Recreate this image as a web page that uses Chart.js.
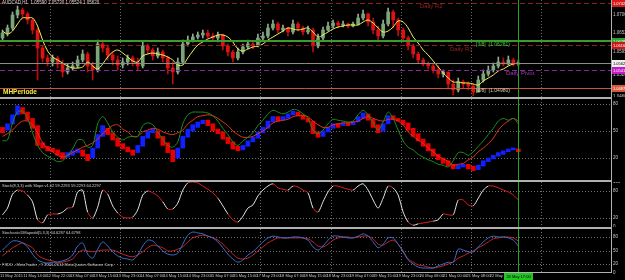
<!DOCTYPE html>
<html lang="en">
<head>
<meta charset="UTF-8">
<title>AUDCAD,H1</title>
<script src="https://cdn.jsdelivr.net/npm/chart.js"></script>
<style>
  html, body { margin: 0; padding: 0; background: #000; }
  body { position: relative; width: 625px; height: 280px; overflow: hidden; font-family: 'Liberation Sans', Arial, sans-serif; }
  canvas { position: absolute; left: 0; }
  .sep { position: absolute; left: 0; width: 612px; height: 2px; background: #b0b0b0; }
  .txt { position: absolute; white-space: nowrap; line-height: 1; }
</style>
</head>
<body>
<canvas id="cMain" width="625" height="97" style="top:0"></canvas>
<div class="sep" style="top:97px"></div>
<canvas id="cMh" width="625" height="81" style="top:99px"></canvas>
<div class="sep" style="top:180px"></div>
<canvas id="cSlope" width="625" height="45" style="top:182px"></canvas>
<div class="sep" style="top:227px"></div>
<canvas id="cDm" width="625" height="51" style="top:229px"></canvas>

<div class="txt" style="left:2px;top:1px;font-size:4.5px;color:#d8d8d8">AUDCAD,H1&nbsp; 1.05590 1.05730 1.05524 1.05620</div>
<div class="txt" style="left:420px;top:3px;font-size:6px;color:#9a2222">Daily R2</div>
<div class="txt" style="left:476px;top:42px;font-size:5px;color:#3ccc3c">[3/8]&nbsp; (1.06281)</div>
<div class="txt" style="left:450px;top:46px;font-size:6px;color:#9a2222">Daily R1</div>
<div class="txt" style="left:506px;top:70px;font-size:6px;color:#a03cb4">Daily Pivot</div>
<div class="txt" style="left:476px;top:88px;font-size:5px;color:#d4d0b0">[2/8]&nbsp; (1.04980)</div>
<div class="txt" style="left:3px;top:89px;font-size:6.5px;font-weight:bold;color:#f4f040">MHPeriode</div>
<div class="txt" style="left:2px;top:184px;font-size:4px;color:#d0d0d0">Stoch(8,3,3) with Slope v1.02 59.2293 59.2293 64.2297</div>
<div class="txt" style="left:2px;top:231px;font-size:4px;color:#d0d0d0">StochasticDMapedd(5,3,3) 64.6287 64.6798</div>
<div class="txt" style="left:2px;top:263px;font-size:4px;color:#c8c8c8">FXDD - MetaTrader , © 2001-2014 MetaQuotes Software Corp.</div>

<script>
// ---- price candles (main panel)
const opens = [1.0637,1.0652,1.0667,1.0706,1.0721,1.0709,1.0691,1.0661,1.0607,1.0577,
  1.0565,1.0577,1.0559,1.0535,1.0547,1.0553,1.0571,1.0589,1.0553,1.0541,
  1.0619,1.0607,1.0586,1.0571,1.0556,1.0565,1.0577,1.0565,1.0553,1.0613,
  1.0601,1.0583,1.0595,1.0577,1.0547,1.0535,1.0565,1.0619,1.0631,1.0640,
  1.0646,1.0652,1.0643,1.0637,1.0646,1.0613,1.0595,1.0577,1.0595,1.0610,
  1.0619,1.0613,1.0637,1.0643,1.0667,1.0679,1.0661,1.0667,1.0655,1.0679,
  1.0667,1.0655,1.0661,1.0613,1.0637,1.0661,1.0673,1.0682,1.0676,1.0679,
  1.0673,1.0679,1.0697,1.0709,1.0685,1.0661,1.0643,1.0679,1.0715,1.0691,
  1.0661,1.0637,1.0613,1.0589,1.0571,1.0559,1.0553,1.0541,1.0529,1.0535,
  1.0499,1.0481,1.0505,1.0499,1.0493,1.0475,1.0511,1.0529,1.0541,1.0553,
  1.0565,1.0559,1.0571,1.0559];
const closes = [1.0652,1.0667,1.0706,1.0721,1.0709,1.0691,1.0661,1.0607,1.0577,1.0565,
  1.0577,1.0559,1.0535,1.0547,1.0553,1.0571,1.0589,1.0553,1.0541,1.0619,
  1.0607,1.0586,1.0571,1.0556,1.0565,1.0577,1.0565,1.0553,1.0613,1.0601,
  1.0583,1.0595,1.0577,1.0547,1.0535,1.0565,1.0619,1.0631,1.0640,1.0646,
  1.0652,1.0643,1.0637,1.0646,1.0613,1.0595,1.0577,1.0595,1.0610,1.0619,
  1.0613,1.0637,1.0643,1.0667,1.0679,1.0661,1.0667,1.0655,1.0679,1.0667,
  1.0655,1.0661,1.0613,1.0637,1.0661,1.0673,1.0682,1.0676,1.0679,1.0673,
  1.0679,1.0697,1.0709,1.0685,1.0661,1.0643,1.0679,1.0715,1.0691,1.0661,
  1.0637,1.0613,1.0589,1.0571,1.0559,1.0553,1.0541,1.0529,1.0535,1.0499,
  1.0481,1.0505,1.0499,1.0493,1.0475,1.0511,1.0529,1.0541,1.0553,1.0565,
  1.0559,1.0571,1.0559,1.0562];
const highs = [1.0661,1.0676,1.0715,1.0733,1.0727,1.0715,1.0697,1.0667,1.0613,1.0586,
  1.0586,1.0583,1.0571,1.0559,1.0565,1.0583,1.0601,1.0595,1.0565,1.0631,
  1.0631,1.0616,1.0595,1.0583,1.0577,1.0586,1.0583,1.0577,1.0625,1.0619,
  1.0607,1.0607,1.0601,1.0583,1.0565,1.0577,1.0631,1.0643,1.0649,1.0655,
  1.0661,1.0661,1.0652,1.0655,1.0649,1.0619,1.0601,1.0607,1.0619,1.0631,
  1.0628,1.0649,1.0655,1.0679,1.0691,1.0685,1.0676,1.0670,1.0691,1.0685,
  1.0673,1.0673,1.0667,1.0649,1.0670,1.0685,1.0691,1.0688,1.0688,1.0682,
  1.0685,1.0709,1.0721,1.0712,1.0697,1.0673,1.0691,1.0727,1.0721,1.0697,
  1.0667,1.0643,1.0619,1.0595,1.0577,1.0565,1.0562,1.0553,1.0541,1.0535,
  1.0511,1.0517,1.0511,1.0505,1.0499,1.0523,1.0541,1.0553,1.0562,1.0580,
  1.0577,1.0583,1.0577,1.0571];
const lows = [1.0631,1.0643,1.0661,1.0697,1.0697,1.0679,1.0649,1.0511,1.0565,1.0553,
  1.0553,1.0547,1.0520,1.0529,1.0541,1.0547,1.0565,1.0535,1.0511,1.0535,
  1.0595,1.0571,1.0556,1.0541,1.0547,1.0556,1.0553,1.0541,1.0547,1.0589,
  1.0571,1.0577,1.0565,1.0529,1.0499,1.0529,1.0559,1.0613,1.0625,1.0634,
  1.0637,1.0637,1.0631,1.0625,1.0601,1.0583,1.0565,1.0571,1.0589,1.0604,
  1.0604,1.0610,1.0631,1.0637,1.0661,1.0652,1.0655,1.0643,1.0649,1.0658,
  1.0646,1.0649,1.0595,1.0607,1.0631,1.0658,1.0667,1.0667,1.0670,1.0667,
  1.0670,1.0676,1.0691,1.0673,1.0649,1.0625,1.0637,1.0673,1.0667,1.0643,
  1.0625,1.0601,1.0577,1.0562,1.0553,1.0544,1.0532,1.0517,1.0520,1.0487,
  1.0466,1.0475,1.0487,1.0481,1.0463,1.0475,1.0505,1.0523,1.0535,1.0547,
  1.0553,1.0556,1.0553,1.0553];
const maLine = [1.0658,1.0649,1.0658,1.0679,1.0697,1.0697,1.0697,1.0673,1.0631,1.0598,
  1.0580,1.0571,1.0562,1.0553,1.0547,1.0547,1.0550,1.0565,1.0553,1.0544,
  1.0559,1.0580,1.0595,1.0601,1.0592,1.0580,1.0568,1.0565,1.0583,1.0589,
  1.0592,1.0589,1.0586,1.0580,1.0571,1.0556,1.0556,1.0577,1.0598,1.0616,
  1.0625,1.0634,1.0640,1.0646,1.0646,1.0640,1.0625,1.0604,1.0598,1.0604,
  1.0610,1.0613,1.0619,1.0631,1.0640,1.0649,1.0658,1.0667,1.0664,1.0661,
  1.0664,1.0667,1.0655,1.0640,1.0646,1.0655,1.0664,1.0670,1.0673,1.0676,
  1.0676,1.0676,1.0685,1.0691,1.0682,1.0667,1.0655,1.0658,1.0670,1.0688,
  1.0685,1.0667,1.0640,1.0622,1.0601,1.0586,1.0568,1.0550,1.0532,1.0517,
  1.0505,1.0505,1.0502,1.0502,1.0499,1.0496,1.0508,1.0517,1.0526,1.0538,
  1.0544,1.0553,1.0559,1.0562];
// R2, [3/8], R1, bid, pivot, [2/8]
const levelPrices = [1.0742, 1.0628, 1.0616, 1.0562, 1.0541, 1.0487];
const priceTicks = [1.0706, 1.0652, 1.0595, 1.0526, 1.0460];

// ---- MHPeriode panel
const mhOpen = [54,51,58,68,76,71,64,56,37,33, 31,29,26,21,23,26,29,24,20,31,
  44,53,48,42,36,32,29,26,33,42, 48,50,44,37,29,20,31,43,50,54,
  58,62,58,52,49,43,38,33,29,33, 38,42,48,53,60,66,62,64,68,71,
  68,64,61,49,44,49,53,58,56,59, 57,60,64,69,63,57,50,58,67,64,
  62,59,53,47,41,36,30,24,20,17, 13,8,10,13,11,7,11,16,19,22, 24,27,29,30];
const mhClose = [48,58,68,78,69,62,53,34,31,28, 27,23,19,26,28,30,22,17,31,46,
  56,46,40,33,30,27,23,34,44,50, 52,42,34,26,16,31,44,52,57,60,
  62,56,50,47,41,36,30,28,34,39, 43,49,54,61,66,61,66,69,72,67,
  63,60,47,43,50,54,58,54,59,56, 60,66,70,62,54,48,58,67,63,61,
  57,51,44,39,33,28,22,18,14,11, 8,12,13,8,6,12,17,20,23,26, 28,30,31,27];
const mhFast = [39,40,59,71,72,64,48,34,26,22, 19,16,17,23,30,40,40,32,34,58,
  66,59,49,43,40,43,44,44,56,59, 57,49,41,34,32,38,58,68,71,71,
  71,70,67,61,53,46,38,34,39,43, 48,56,62,69,73,71,69,71,74,73,
  69,64,51,47,51,58,63,62,61,60, 61,68,73,68,59,51,60,71,64,51,
  39,32,29,24,21,18,16,13,12,10, 17,26,26,23,27,33,39,46,53,61, 64,62,64,58];
const mhSlow = [44,47,51,57,61,61,57,48,37,31, 27,23,21,23,26,29,32,34,37,41,
  47,52,56,57,52,49,44,44,49,51, 53,52,49,47,46,48,51,58,62,66,
  67,68,67,64,60,56,50,46,43,43, 44,47,50,54,59,61,62,63,66,67,
  67,66,61,57,54,54,57,58,59,59, 60,61,64,66,64,62,61,63,63,61,
  57,49,44,40,36,31,27,22,19,16, 12,13,14,18,21,27,31,36,42,51, 57,61,64,61];

// ---- Stoch with slope
const stochSlope = [27,42,73,82,80,71,56,16,9,27, 29,29,33,42,44,78,82,33,20,44,
  82,73,47,31,22,20,22,38,71,80, 76,69,56,40,40,53,82,98,100,98,
  91,84,76,64,47,29,16,11,24,42, 49,69,82,91,96,87,84,82,91,89,
  82,76,42,33,56,78,91,91,87,84, 82,91,96,82,60,42,64,91,87,71,
  33,11,4,7,9,11,13,16,29,27, 27,60,60,49,47,64,82,91,91,87, 82,78,71,60];

// ---- StochasticDMapedd
const dmMain = [51,62,71,71,67,58,42,29,24,22, 24,24,27,31,40,60,67,42,33,53,
  69,60,47,38,33,31,29,40,60,73, 71,60,49,42,40,44,64,84,91,89,
  87,82,78,69,56,42,31,24,29,40, 47,58,69,78,82,80,78,78,80,80,
  78,73,58,51,60,73,82,82,80,78, 78,82,87,82,69,56,64,78,78,64,
  47,29,20,13,11,11,11,16,20,24, 24,53,51,47,47,58,69,78,82,80, 80,78,73,60];
const dmSignal = [38,47,56,62,67,62,56,40,33,29, 27,24,24,27,31,44,51,49,47,49,
  51,51,51,47,42,38,36,40,47,56, 62,60,56,49,49,53,58,69,78,82,
  84,82,78,73,64,53,42,33,31,33, 40,49,58,67,73,78,78,78,78,78,
  78,76,69,60,58,64,73,78,80,80, 78,80,82,82,76,64,62,69,73,64,
  49,31,24,18,16,13,11,13,16,20, 24,33,38,44,49,56,62,69,76,78, 80,80,78,71];

const dateTicks = ['11 May 2015','11 May 14:00','12 May 22:00','13 May 07:00','13 May 15:00',
  '13 May 23:00','14 May 07:00','14 May 15:00','14 May 23:00','15 May 07:00','15 May 15:00',
  '17 May 23:00','18 May 07:00','18 May 15:00','18 May 23:00','19 May 07:00','19 May 15:00',
  '19 May 23:00','20 May 08:00','21 May 00:00','21 May 08:00','22 May 16:00'];
const cursorLabel = '24 May 17:00';

const nSlots = 122;               // bars that fit in the window, incl. empty space on the right
const gridIdx = [10, 24, 52, 66, 80, 94, 108];
const cursorIdx = closes.length - 1;
const slots = Array.from({ length: nSlots }, (_, i) => i);

Chart.defaults.font.family = "'Liberation Sans', Arial, sans-serif";
Chart.defaults.font.size = 4.5;
Chart.defaults.animation = false;
Chart.defaults.events = [];
Chart.defaults.plugins.legend.display = false;
Chart.defaults.plugins.tooltip.enabled = false;

const xHidden = { type: 'category', offset: true, display: false };

function rightAxis(min, max, ticks, fmt) {
  return {
    position: 'right', min, max,
    afterFit: s => { s.width = 14; s.paddingTop = 0; s.paddingBottom = 0; },
    afterBuildTicks: s => { s.ticks = ticks.map(v => ({ value: v })); },
    border: { color: '#b0b0b0', width: 1 },
    grid: { display: false, drawTicks: false },
    ticks: { color: '#c4c4c4', padding: 2, callback: fmt || (v => String(v)) }
  };
}

// dotted day lines, horizontal level lines, green cursor
function frame(yLines) {
  return {
    id: 'frame',
    beforeDatasetsDraw(chart) {
      const { ctx, chartArea: a, scales: { x, y } } = chart;
      const half = (x.getPixelForValue(1) - x.getPixelForValue(0)) / 2;
      ctx.save();
      ctx.strokeStyle = '#6e6e6e';
      ctx.lineWidth = 1;
      ctx.setLineDash([1, 2]);
      ctx.beginPath();
      gridIdx.forEach(i => {
        const px = Math.round(x.getPixelForValue(i) - half) + 0.5;
        ctx.moveTo(px, a.top); ctx.lineTo(px, a.bottom);
      });
      yLines.forEach(v => {
        const py = Math.round(y.getPixelForValue(v)) + 0.5;
        ctx.moveTo(a.left, py); ctx.lineTo(a.right, py);
      });
      ctx.stroke();
      ctx.restore();
    },
    afterDatasetsDraw(chart) {
      const { ctx, chartArea: a, scales: { x } } = chart;
      const px = Math.round(x.getPixelForValue(cursorIdx)) + 0.5;
      ctx.save();
      ctx.strokeStyle = '#1fa51f';
      ctx.lineWidth = 1;
      ctx.beginPath(); ctx.moveTo(px, a.top); ctx.lineTo(px, a.bottom); ctx.stroke();
      ctx.restore();
    }
  };
}

// main-panel levels: R2, [3/8], R1, bid, pivot, [2/8]
const levelStyle = [
  { color: '#8a1e1e', dash: [5, 3], width: 1, box: '#d81a1a', ink: '#ffffff' },
  { color: '#3a9c2c', dash: [], width: 2, box: '#2ea02e', ink: '#ffffff' },
  { color: '#8a1e1e', dash: [5, 3], width: 1, box: '#c81818', ink: '#ffffff' },
  { color: '#8c8c8c', dash: [], width: 1, box: '#f0f0f0', ink: '#000000' },
  { color: '#8a2a9a', dash: [5, 3], width: 1, box: '#c41cc4', ink: '#ffffff' },
  { color: '#c8553a', dash: [], width: 1, box: '#d8583a', ink: '#ffffff' }
];
const levels = {
  id: 'levels',
  afterDatasetsDraw(chart) {
    const { ctx, chartArea: a, scales: { y } } = chart;
    ctx.save();
    levelPrices.forEach((p, i) => {
      const st = levelStyle[i];
      const py = Math.round(y.getPixelForValue(p)) + (st.width % 2 ? 0.5 : 0);
      ctx.strokeStyle = st.color;
      ctx.lineWidth = st.width;
      ctx.setLineDash(st.dash);
      ctx.beginPath(); ctx.moveTo(a.left, py); ctx.lineTo(a.right, py); ctx.stroke();
    });
    ctx.restore();
  },
  afterDraw(chart) {
    const { ctx, chartArea: a, scales: { y } } = chart;
    ctx.save();
    ctx.font = "4px 'Liberation Sans', Arial, sans-serif";
    ctx.textBaseline = 'middle';
    levelPrices.forEach((p, i) => {
      const st = levelStyle[i];
      const py = Math.round(y.getPixelForValue(p));
      ctx.fillStyle = st.box;
      ctx.fillRect(a.right + 1, py - 3, 14, 7);
      ctx.fillStyle = st.ink;
      ctx.fillText(p.toFixed(5), a.right + 2, py + 0.5);
    });
    ctx.restore();
  }
};

// ---- main price chart
new Chart(document.getElementById('cMain'), {
  type: 'bar',
  data: {
    labels: slots,
    datasets: [
      { type: 'line', data: maLine, borderColor: '#f2f05a', borderWidth: 1, pointRadius: 0, tension: 0.35, order: 0 },
      { data: closes.map((c, i) => [opens[i], c]),
        backgroundColor: closes.map((c, i) => c >= opens[i] ? '#78a878' : '#e01212'),
        barThickness: 3, grouped: false, minBarLength: 1, borderWidth: 0, order: 1 },
      { data: highs.map((h, i) => [lows[i], h]),
        backgroundColor: closes.map((c, i) => c >= opens[i] ? '#9aa89a' : '#b80e0e'),
        barThickness: 1, grouped: false, borderWidth: 0, order: 2 }
    ]
  },
  options: {
    responsive: false,
    layout: { padding: 0 },
    scales: { x: xHidden, y: rightAxis(1.0460, 1.0751, priceTicks, v => v.toFixed(5)) }
  },
  plugins: [frame([]), levels]
});

// ---- MHPeriode
new Chart(document.getElementById('cMh'), {
  type: 'bar',
  data: {
    labels: slots,
    datasets: [
      { type: 'line', data: mhFast, borderColor: '#1e8c1e', borderWidth: 1, pointRadius: 0, tension: 0.3, order: 0 },
      { type: 'line', data: mhSlow, borderColor: '#e2321c', borderWidth: 1, pointRadius: 0, tension: 0.3, order: 0 },
      { data: mhClose.map((c, i) => [mhOpen[i], c]),
        backgroundColor: mhClose.map((c, i) => c >= mhOpen[i] ? '#1020ff' : '#e60000'),
        barThickness: 4, grouped: false, minBarLength: 2, borderWidth: 0, order: 1 }
    ]
  },
  options: {
    responsive: false,
    layout: { padding: 0 },
    scales: { x: xHidden, y: rightAxis(-4.44, 85.56, [80, 50, 20]) }
  },
  plugins: [frame([80, 50, 20])]
});

// ---- Stoch with slope
new Chart(document.getElementById('cSlope'), {
  type: 'line',
  data: {
    labels: slots,
    datasets: [{
      data: stochSlope, borderWidth: 1, pointRadius: 0, tension: 0.25, borderColor: '#e6e6e6',
      segment: {
        borderColor: c => {
          const d = c.p1.parsed.y - c.p0.parsed.y;
          return d <= 2 && Math.abs(d) < 14 ? '#e42020' : '#e6e6e6';
        }
      }
    }]
  },
  options: {
    responsive: false,
    layout: { padding: 0 },
    scales: { x: xHidden, y: rightAxis(0, 100, [100, 80, 20, 0]) }
  },
  plugins: [frame([80, 20])]
});

// ---- StochasticDMapedd + time axis
const stamp = {
  id: 'stamp',
  afterDraw(chart) {
    const { ctx, chartArea: a, scales: { x } } = chart;
    const cx = Math.round(x.getPixelForValue(cursorIdx));
    ctx.save();
    ctx.fillStyle = '#22c422';
    ctx.fillRect(cx - 14, a.bottom + 1, 29, 7);
    ctx.fillStyle = '#000';
    ctx.font = "4px 'Liberation Sans', Arial, sans-serif";
    ctx.textAlign = 'center';
    ctx.textBaseline = 'middle';
    ctx.fillText(cursorLabel, cx + 0.5, a.bottom + 4.5);
    ctx.restore();
  }
};
new Chart(document.getElementById('cDm'), {
  type: 'line',
  data: {
    labels: slots,
    datasets: [
      { data: dmMain, xAxisID: 'x', borderColor: '#3a6ccc', borderWidth: 1, pointRadius: 0, tension: 0.3 },
      { data: dmSignal, xAxisID: 'x', borderColor: '#c42626', borderWidth: 1, pointRadius: 0, tension: 0.3 }
    ]
  },
  options: {
    responsive: false,
    layout: { padding: 0 },
    scales: {
      x: xHidden,
      xd: {
        type: 'linear', position: 'bottom', min: 0, max: 26.2,
        afterFit: s => { s.height = 8; s.paddingLeft = 0; s.paddingRight = 0; },
        afterBuildTicks: s => { s.ticks = dateTicks.map((_, i) => ({ value: i })); },
        border: { color: '#b0b0b0', width: 1 },
        grid: { display: false, drawTicks: false },
        ticks: { autoSkip: false, maxRotation: 0, minRotation: 0, align: 'start', padding: 1.5,
                 color: '#c8c8c8', font: { size: 4 }, callback: v => dateTicks[v] }
      },
      y: rightAxis(2.22, 97.78, [100, 80, 50, 20, 0])
    }
  },
  plugins: [frame([80, 50, 20]), stamp]
});
</script>
</body>
</html>
